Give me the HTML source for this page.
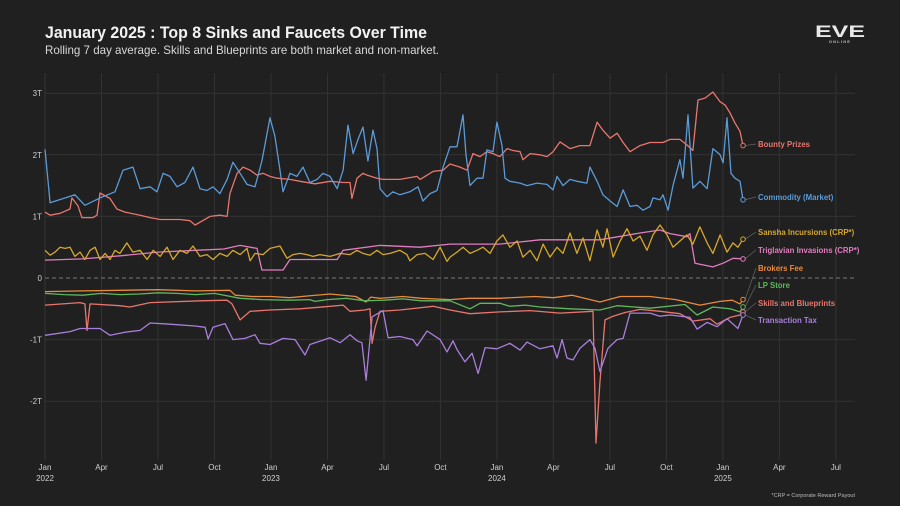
<!DOCTYPE html>
<html><head><meta charset="utf-8"><style>
html,body{margin:0;padding:0;background:#202020;}
svg{display:block;font-family:"Liberation Sans",sans-serif;}
</style></head><body>
<svg id="chart" width="900" height="506" viewBox="0 0 900 506">
<rect width="900" height="506" fill="#202020"/>
<text x="45" y="38" font-size="17" font-weight="bold" fill="#f2f2f2" textLength="382" lengthAdjust="spacingAndGlyphs">January 2025 : Top 8 Sinks and Faucets Over Time</text>
<text x="45" y="54" font-size="12" fill="#d8d8d8" textLength="394" lengthAdjust="spacingAndGlyphs">Rolling 7 day average. Skills and Blueprints are both market and non-market.</text>
<g>
<text x="840" y="37" font-size="17" font-weight="bold" fill="#e8e8e8" text-anchor="middle" textLength="50" lengthAdjust="spacingAndGlyphs">EVE</text>
<text x="840" y="43" font-size="4" font-weight="bold" fill="#bbb" text-anchor="middle" letter-spacing="1.2">ONLINE</text>
</g>
<g id="grid"></g>
<g id="axes"></g>
<g id="series"></g>
<g id="labels"></g>
<text x="855" y="497" font-size="5.5" fill="#bbb" text-anchor="end">*CRP = Corporate Reward Payout</text>
</svg>
<script>
// time in months since Jan 2022; values in trillions ISK
const yTicks = [3, 2, 1, 0, -1, -2];
const yTickLabels = ["3T", "2T", "1T", "0", "-1T", "-2T"];
const xTickMonths = [0, 3, 6, 9, 12, 15, 18, 21, 24, 27, 30, 33, 36, 39, 42];
const xTickLabels = ["Jan", "Apr", "Jul", "Oct", "Jan", "Apr", "Jul", "Oct", "Jan", "Apr", "Jul", "Oct", "Jan", "Apr", "Jul"];
const xYearLabels = ["2022", "", "", "", "2023", "", "", "", "2024", "", "", "", "2025", "", ""];

const commodityT = [0,.27,1.59,2.12,2.92,3.72,4.14,4.67,5.05,5.58,5.95,6.27,6.64,7.01,7.43,7.86,8.23,8.6,8.92,9.29,9.67,9.98,10.36,10.73,11.15,11.52,11.95,12.21,12.48,12.64,13.01,13.38,13.7,14.07,14.45,14.76,15.14,15.51,15.83,16.09,16.36,16.62,16.89,17.15,17.42,17.63,17.79,18.16,18.48,18.85,19.38,19.81,20.07,20.45,20.82,21.14,21.51,21.88,22.2,22.36,22.57,22.94,23.26,23.47,23.79,24.0,24.27,24.43,24.69,25.23,25.6,26.13,26.66,26.98,27.19,27.51,27.88,28.25,28.78,28.94,29.32,29.63,30.01,30.38,30.7,31.07,31.44,31.76,32.13,32.29,32.66,32.82,33.09,33.35,33.72,33.88,34.15,34.41,34.78,35.16,35.47,35.85,36.01,36.22,36.43,36.64,36.91,37.07];
const commodityV = [2.09,1.22,1.35,1.18,1.3,1.4,1.75,1.8,1.45,1.48,1.4,1.7,1.65,1.48,1.55,1.8,1.45,1.42,1.48,1.37,1.6,1.88,1.7,1.52,1.48,1.9,2.6,2.3,1.75,1.4,1.7,1.65,1.8,1.55,1.6,1.7,1.65,1.45,1.75,2.48,2.02,2.25,2.45,1.9,2.4,2.1,1.45,1.32,1.4,1.35,1.4,1.48,1.25,1.37,1.42,1.8,2.13,2.13,2.65,2.0,1.5,1.62,1.62,2.08,2.05,2.53,2.15,1.62,1.57,1.54,1.5,1.54,1.52,1.43,1.65,1.5,1.6,1.57,1.54,1.8,1.57,1.35,1.25,1.16,1.43,1.16,1.18,1.1,1.16,1.3,1.27,1.35,1.1,1.5,1.92,1.62,2.65,1.46,1.57,1.45,2.1,2.0,1.87,2.6,1.7,1.62,1.57,1.27];

const bountyT = [0,.27,.8,1.33,1.43,1.75,1.96,2.55,2.76,2.92,3.45,3.82,4.25,5.05,5.58,6.11,7.17,7.7,7.97,8.76,9.29,9.67,9.82,10.2,10.52,10.89,11.26,11.58,11.95,12.32,13.01,13.54,14.34,15.14,15.83,16.2,16.3,16.57,16.89,17.1,17.63,17.95,18.85,19.76,19.92,20.61,21.14,21.51,22.04,22.41,22.73,23.1,23.47,23.79,24.16,24.54,24.85,25.23,25.38,25.76,26.29,26.66,26.98,27.35,27.88,28.41,28.94,29.32,29.63,30.01,30.38,30.7,31.07,31.6,32.13,32.29,32.82,33.19,33.72,34.09,34.41,34.68,35.05,35.47,35.85,36.11,36.38,36.64,36.91,37.07];
const bountyV = [1.07,1.02,1.05,1.12,1.3,1.17,.98,.98,1.02,1.38,1.29,1.12,1.07,1.02,.98,.95,.95,.93,.86,1.0,1.02,1.0,1.37,1.7,1.8,1.75,1.67,1.7,1.65,1.62,1.6,1.57,1.53,1.57,1.55,1.55,1.29,1.62,1.7,1.67,1.62,1.6,1.6,1.65,1.6,1.73,1.75,1.85,1.8,1.75,2.02,1.97,2.05,2.02,1.97,2.1,2.07,2.05,1.92,2.02,2.0,1.97,2.05,2.21,2.1,2.15,2.15,2.53,2.4,2.27,2.35,2.2,2.05,2.15,2.2,2.2,2.2,2.25,2.25,2.16,2.07,2.89,2.92,3.02,2.86,2.81,2.68,2.52,2.38,2.15];

const sanshaT = [0,.27,.53,.8,1.06,1.33,1.59,1.86,2.12,2.39,2.66,2.92,3.19,3.45,3.72,3.98,4.35,4.67,5.05,5.42,5.74,6.11,6.48,6.8,7.17,7.54,7.86,8.23,8.6,8.92,9.29,9.67,9.98,10.36,10.73,10.89,11.15,11.58,11.95,12.48,12.85,13.17,13.54,13.91,14.23,14.6,15.14,15.67,16.2,16.57,16.89,17.26,17.63,17.95,18.32,18.85,19.22,19.38,19.76,20.18,20.61,20.98,21.35,21.51,21.88,22.2,22.57,22.94,23.26,23.63,24.0,24.32,24.69,25.07,25.38,25.76,26.13,26.45,26.82,27.19,27.51,27.88,28.25,28.57,28.94,29.32,29.63,29.85,30.17,30.54,30.91,31.23,31.6,31.97,32.29,32.66,33.03,33.35,33.72,34.09,34.41,34.78,35.16,35.47,35.85,36.22,36.54,36.8,37.07];
const sanshaV = [.45,.37,.42,.5,.48,.5,.35,.42,.3,.45,.5,.3,.4,.3,.45,.4,.57,.42,.45,.3,.45,.35,.5,.3,.45,.4,.52,.35,.38,.3,.4,.35,.45,.38,.48,.28,.4,.38,.48,.52,.32,.38,.4,.38,.35,.38,.35,.4,.38,.45,.4,.37,.45,.38,.4,.45,.38,.28,.38,.4,.3,.5,.27,.34,.42,.5,.4,.45,.5,.4,.6,.7,.5,.6,.34,.45,.28,.55,.34,.5,.4,.73,.4,.65,.28,.78,.5,.8,.34,.6,.8,.6,.68,.45,.7,.86,.7,.5,.6,.7,.55,.83,.57,.4,.7,.42,.57,.5,.63];

const trigT = [0,2,4,6,8,9.5,10.36,11.26,11.52,12.64,13.01,15.51,15.83,17.79,19.92,21.51,24.16,26.29,29.47,31.6,32.66,33.19,34.09,34.25,34.52,35.47,36.01,36.54,37.07];
const trigV = [.29,.31,.36,.42,.45,.47,.53,.48,.13,.13,.3,.3,.45,.53,.5,.55,.55,.62,.62,.73,.78,.72,.67,.72,.24,.18,.24,.32,.31];

const brokersT = [0,2,4,6,8,9.82,10.1,11,12,13,14,15.14,16.5,17.05,17.3,17.79,19,20,21.51,22.5,24.16,26,27,28,29.47,30.54,32.13,33.5,34.78,35.85,36.5,36.91,37.07];
const brokersV = [-.22,-.21,-.2,-.19,-.21,-.2,-.28,-.3,-.3,-.32,-.29,-.26,-.3,-.39,-.31,-.33,-.3,-.33,-.35,-.33,-.33,-.3,-.32,-.28,-.39,-.3,-.3,-.35,-.44,-.38,-.36,-.42,-.35];

const lpT = [0,1,2,3,4,5,6,7,8,9,10.36,11.5,13,14.07,14.34,15,16,17,18,19,20,21.51,22.57,23.1,24.16,24.69,25.5,26.29,27.88,29.47,30.38,32.13,33.99,34.63,35.47,36.38,36.91,37.07];
const lpV = [-.25,-.27,-.28,-.25,-.27,-.26,-.24,-.25,-.27,-.25,-.33,-.35,-.36,-.35,-.38,-.35,-.33,-.37,-.36,-.34,-.37,-.37,-.5,-.41,-.41,-.46,-.44,-.47,-.5,-.52,-.45,-.49,-.43,-.6,-.47,-.5,-.55,-.47];

const skillsT = [0,1.86,2.12,2.23,2.39,3.98,4.51,5.58,8.23,9.67,9.93,10.36,10.89,11.95,13.54,15.14,15.83,16.2,16.99,17.26,17.37,17.53,17.79,18.85,20.61,21.51,22.57,24.16,25.76,27.35,29.1,29.26,29.47,29.74,30.17,30.8,31.6,32.66,33.72,34.41,35.32,35.69,36.38,36.91,37.07];
const skillsV = [-.44,-.4,-.42,-.85,-.42,-.45,-.47,-.4,-.37,-.36,-.42,-.68,-.54,-.52,-.5,-.46,-.44,-.54,-.52,-.5,-1.06,-.8,-.54,-.52,-.46,-.52,-.58,-.55,-.53,-.57,-.54,-2.68,-1.7,-.68,-.62,-.56,-.51,-.54,-.58,-.7,-.66,-.75,-.64,-.6,-.55];

const taxT = [0,1.33,1.86,2.92,3.45,4.25,5.05,5.58,6.64,7.97,8.5,8.66,8.92,9.56,9.98,10.62,11.15,11.42,11.95,12.64,13.28,13.81,14.07,15.14,15.67,16.2,16.57,16.83,17.05,17.37,17.95,18.22,18.85,19.54,19.76,20.29,20.98,21.35,21.67,21.88,22.3,22.68,23.0,23.37,24.0,24.69,25.23,25.6,26.29,26.98,27.19,27.46,27.72,28.04,28.41,28.94,29.21,29.47,29.9,30.38,30.7,31.07,32.13,32.66,33.19,34.25,34.63,35.16,35.69,36.22,36.8,37.07];
const taxV = [-.93,-.87,-.82,-.82,-.93,-.88,-.85,-.73,-.75,-.78,-.8,-.99,-.8,-.74,-1.0,-.98,-.92,-1.06,-1.08,-.98,-1.0,-1.25,-1.08,-.97,-1.05,-.92,-1.02,-1.05,-1.66,-.63,-.53,-.97,-.95,-1.0,-1.1,-.86,-1.0,-1.2,-1.02,-1.16,-1.36,-1.22,-1.55,-1.13,-1.15,-1.06,-1.17,-1.04,-1.15,-1.1,-1.3,-1.0,-1.3,-1.33,-1.14,-1.0,-1.14,-1.52,-1.14,-1.0,-.98,-.57,-.57,-.62,-.6,-.64,-.83,-.72,-.79,-.66,-.82,-.6];

const seriesNames = ["Bounty Prizes","Commodity (Market)","Sansha Incursions (CRP*)","Triglavian Invasions (CRP*)","Brokers Fee","LP Store","Skills and Blueprints","Transaction Tax"];

const NS = "http://www.w3.org/2000/svg";
const X0 = 45, PXM = 18.83, Y0 = 278, PXT = 61.6;
function xScale(m){ return X0 + m * PXM; }
function yScale(v){ return Y0 - v * PXT; }
function mk(tag, attrs, parent){ const e = document.createElementNS(NS, tag); for (const k in attrs) e.setAttribute(k, attrs[k]); parent.appendChild(e); return e; }

const grid = document.getElementById('grid');
const axes = document.getElementById('axes');
xTickMonths.forEach((m, i) => {
  const l = mk('line', {x1: xScale(m), x2: xScale(m), y1: 73, y2: 460, stroke: '#333', 'stroke-width': 1}, grid);
  
  
  const t = mk('text', {x: xScale(m), y: 470, 'font-size': 8, fill: '#d0d0d0', 'text-anchor': 'middle'}, axes);
  t.textContent = xTickLabels[i];
  
  
  if (xYearLabels[i]) {
    const ty = mk('text', {x: xScale(m), y: 481, 'font-size': 8, fill: '#d0d0d0', 'text-anchor': 'middle'}, axes);
    ty.textContent = xYearLabels[i];
    
    
  }
});
yTicks.forEach((v, i) => {
  const attrs = {x1: 45, x2: 855, y1: yScale(v), y2: yScale(v), stroke: v === 0 ? '#777' : '#333', 'stroke-width': 1};
  if (v === 0) attrs['stroke-dasharray'] = '4,3';
  const l = mk('line', attrs, grid);
  
  
  const t = mk('text', {x: 42, y: yScale(v) + 3, 'font-size': 8, fill: '#d0d0d0', 'text-anchor': 'end'}, axes);
  t.textContent = yTickLabels[i];
  
  
});

const seriesG = document.getElementById('series');
const labelsG = document.getElementById('labels');
const defs = [
  [bountyT, bountyV, '#e8766d', 147],
  [commodityT, commodityV, '#5b9bd8', 200],
  [sanshaT, sanshaV, '#d6a72c', 235],
  [trigT, trigV, '#e27cc0', 253],
  [brokersT, brokersV, '#e98b3d', 271],
  [lpT, lpV, '#5fb85c', 288],
  [skillsT, skillsV, '#e8766d', 306],
  [taxT, taxV, '#a97fdc', 323]
];
const order = [4,5,6,7,3,2,0,1];
order.forEach(i => {
  const [T, V, c] = defs[i];
  const d = T.map((m, k) => (k ? 'L' : 'M') + xScale(m).toFixed(1) + ',' + yScale(V[k]).toFixed(1)).join('');
  const p = mk('path', {d: d, fill: 'none', stroke: c, 'stroke-width': 1.3, 'stroke-linejoin': 'round'}, seriesG);
  
  
});
defs.forEach((s, i) => {
  const [T, V, c, ly] = s;
  const ex = xScale(T[T.length - 1]), ey = yScale(V[V.length - 1]);
  const ll = mk('line', {x1: ex + 2, y1: ey, x2: 756, y2: ly - 3, stroke: '#666', 'stroke-width': 0.7}, labelsG);
  
  
  const ci = mk('circle', {cx: ex, cy: ey, r: 2.3, fill: '#202020', stroke: c, 'stroke-width': 1}, labelsG);
  
  
  const t = mk('text', {x: 758, y: ly, 'font-size': 7.8, 'font-weight': 'bold', fill: c}, labelsG);
  t.textContent = seriesNames[i];
  
  
});
</script>
</body></html>
